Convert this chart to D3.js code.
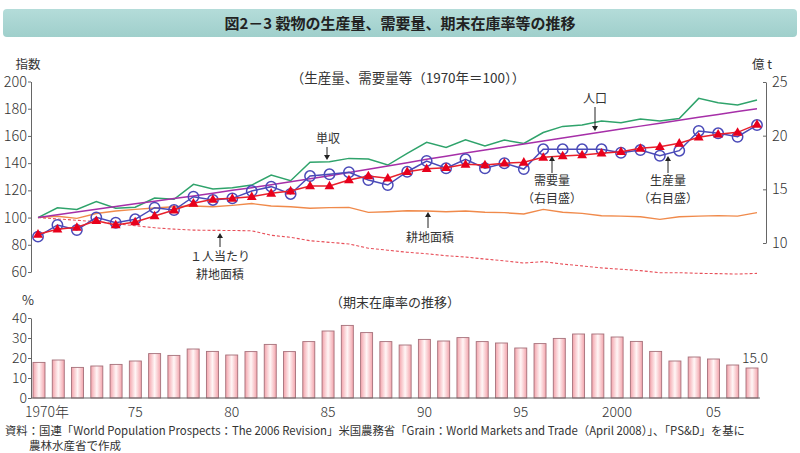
<!DOCTYPE html>
<html><head><meta charset="utf-8">
<script src="https://cdn.jsdelivr.net/npm/d3@7"></script>
<style>
body{margin:0;background:#fff;}
svg{display:block;font-family:"Noto Sans CJK JP","Noto Sans",sans-serif;}
</style></head><body>
<svg id="c" width="800" height="453"></svg>
<script>
const years = d3.range(1970, 2008);
// 単収 (index, 1970=100)
const yieldIdx = [100,107.2,106,111.7,106.8,107.6,114.3,113.4,124.4,121,122,123.9,131.3,127.1,140.6,141,143.5,143,138.6,147.2,155.3,151.5,157.2,152.7,157,154.5,162.5,167,168,171,169.7,172.4,171,172.8,187.6,184.4,182.7,186.4];
// 人口 (index)
const population = [100,102.1,104.1,106.1,108.1,110.1,112.0,114.0,115.9,117.9,120.0,122.0,124.2,126.3,128.5,130.8,133.1,135.5,137.9,140.3,142.8,145.1,147.4,149.7,151.9,154.1,156.3,158.5,160.7,162.9,165.1,167.2,169.4,171.5,173.7,175.8,177.9,180.0];
// 耕地面積 (index)
const arable = [100,101,99.4,103,104.8,106,107,108,108.5,108,109,110.3,108.5,108,106.8,107.3,107.5,103.8,104.3,105,104.8,104.3,104.8,103.9,103.6,102.6,106,103.9,103.1,101.3,101.1,100.6,98.7,100.6,101.1,101.4,101.1,103.6];
// 1人当たり耕地面積 (index)
const arablePerCap = [100,99,98,97,95.5,94,92.5,91.5,90.8,90.6,90.5,90.3,87,85.5,83,81.8,80.6,77.5,76,74.5,73.4,72,71,69.5,68.2,66.6,67.6,65.8,64.5,63,62,61,59.5,59.5,59,58.8,58.5,59];
// 生産量 (億t, right axis)
const production = [10.59,11.68,11.21,12.39,11.89,12.21,13.29,13.07,14.31,14.01,14.16,14.84,15.25,14.57,16.24,16.40,16.59,15.87,15.40,16.64,17.64,16.96,17.80,16.96,17.43,16.89,18.73,18.73,18.73,18.73,18.41,18.66,18.13,18.60,20.44,20.22,19.90,20.99];
// 需要量 (億t, right axis)
const demand = [10.81,11.28,11.46,12.08,11.68,11.96,12.52,13.07,13.70,14.07,14.16,14.31,14.63,14.84,15.31,15.31,15.87,16.24,16.03,16.64,16.92,17.02,17.33,17.27,17.43,17.52,17.98,18.11,18.20,18.36,18.51,18.82,18.97,19.29,19.85,20.13,20.31,21.05];
// 期末在庫率 (%)
const stockRatio = [17.8,19,15.3,16,16.8,18.5,22.2,21.3,24.5,23.3,21.5,23.2,26.8,23.2,28.2,33.5,36.3,32.7,28.2,26.5,29.3,28.5,30.2,28.2,27.5,25,27.2,29.8,32,32,30.5,28.3,23.3,18.5,20.5,19.5,16.5,15.0];
const leftTicks = [60,80,100,120,140,160,180,200];
const rightTicks = [10,15,20,25];
const pctTicks = [0,10,20,30,40];
const xLabels = [[1970,"1970年"],[1975,"75"],[1980,"80"],[1985,"85"],[1990,"90"],[1995,"95"],[2000,"2000"],[2005,"05"]];

const svg = d3.select("#c");
const txt = "#333";

// title
const defs = svg.append("defs");
const tg = defs.append("linearGradient").attr("id","tg").attr("x1",0).attr("y1",0).attr("x2",0).attr("y2",1);
tg.append("stop").attr("offset","0").attr("stop-color","#b4dcd9");
tg.append("stop").attr("offset","1").attr("stop-color","#9fcfcb");
svg.append("rect").attr("x",3).attr("y",9).attr("width",794).attr("height",28).attr("rx",4).attr("fill","url(#tg)");
svg.append("text").attr("x",400).attr("y",28.5).attr("text-anchor","middle").attr("font-size",15).attr("font-weight","bold").attr("fill","#222").text("図2－3 穀物の生産量、需要量、期末在庫率等の推移");

// scales
const x = d3.scaleLinear().domain([1970,2007]).range([38,757]);
const yL = d3.scaleLinear().domain([60,200]).range([272,81.5]);
const yR = d3.scaleLinear().domain([10,25]).range([243,82]);
const xb = d3.scaleLinear().domain([1970,2007]).range([39,752]);
const yb = d3.scaleLinear().domain([0,40]).range([398,318]);

function styleAxis(g){
  g.selectAll("path").attr("stroke","#666");
  g.selectAll("line").attr("stroke","#666");
  g.selectAll("text").attr("fill",txt).attr("font-size",14.5).attr("font-family","'Noto Sans CJK JP',sans-serif").attr("font-weight",300);
}
// left axis
const gl = svg.append("g").attr("transform","translate(31,0)").call(d3.axisLeft(yL).tickValues(leftTicks).tickSize(3).tickSizeOuter(0).tickPadding(1));
styleAxis(gl);
svg.append("text").attr("x",28).attr("y",69).attr("text-anchor","middle").attr("font-size",12.5).attr("fill",txt).text("指数");
// right axis
const gr = svg.append("g").attr("transform","translate(766,0)").call(d3.axisRight(yR).tickValues(rightTicks).tickSize(3).tickSizeOuter(0).tickPadding(3));
styleAxis(gr);
gr.selectAll(".tick line").attr("x2",-3);
svg.append("text").attr("x",762).attr("y",69).attr("text-anchor","middle").attr("font-size",12.5).attr("fill",txt).text("億 t");
svg.append("text").attr("x",408).attr("y",83).attr("text-anchor","middle").attr("font-size",13.5).attr("fill",txt).text("（生産量、需要量等（1970年＝100））");

// lines
const lineL = d3.line().x((d,i)=>x(years[i])).y(d=>yL(d));
const lineR = d3.line().x((d,i)=>x(years[i])).y(d=>yR(d));
svg.append("path").attr("d",lineL(arable)).attr("fill","none").attr("stroke","#f08a4b").attr("stroke-width",1.4);
svg.append("path").attr("d",lineL(arablePerCap)).attr("fill","none").attr("stroke","#e8505a").attr("stroke-width",1.1).attr("stroke-dasharray","3,2");
svg.append("path").attr("d",lineL(yieldIdx)).attr("fill","none").attr("stroke","#2fa36b").attr("stroke-width",1.5);
svg.append("path").attr("d",lineL(population)).attr("fill","none").attr("stroke","#a62fa8").attr("stroke-width",1.5);
svg.append("path").attr("d",lineR(production)).attr("fill","none").attr("stroke","#4a4ab8").attr("stroke-width",1.5);
svg.selectAll("circle.p").data(production).join("circle").attr("class","p")
  .attr("cx",(d,i)=>x(years[i])).attr("cy",d=>yR(d)).attr("r",5.2)
  .attr("fill","none").attr("stroke","#4a4ab8").attr("stroke-width",1.5);
svg.append("path").attr("d",lineR(demand)).attr("fill","none").attr("stroke","#e8202c").attr("stroke-width",1.5);
const tri = d3.symbol().type(d3.symbolTriangle).size(42);
svg.selectAll("path.t").data(demand).join("path").attr("class","t")
  .attr("d",tri).attr("transform",(d,i)=>`translate(${x(years[i])},${yR(d)+0.5})`)
  .attr("fill","#e8001c");

// annotations
function arrow(x0,y0,y1){
  svg.append("line").attr("x1",x0).attr("y1",y0).attr("x2",x0).attr("y2",y1+ (y1>y0?-4:4)).attr("stroke","#222").attr("stroke-width",1);
  const dir = y1>y0?1:-1;
  svg.append("path").attr("d",`M${x0-3},${y1-dir*5}L${x0+3},${y1-dir*5}L${x0},${y1}Z`).attr("fill","#222");
}
function label(xx,yy,lines){
  lines.forEach((t,i)=>svg.append("text").attr("x",xx).attr("y",yy+i*17.6).attr("text-anchor","middle").attr("font-size",12).attr("fill",txt).text(t));
}
label(328,143,["単収"]); arrow(327,147,160);
label(595,103,["人口"]); arrow(595,107,131);
label(552,185,["需要量","（右目盛）"]); arrow(552,173,156);
label(668,185,["生産量","（右目盛）"]); arrow(668,173,156);
label(430,242,["耕地面積"]); arrow(428,228,212);
label(220,261,["１人当たり","耕地面積"]); arrow(220,247,233);

// bottom chart
svg.append("text").attr("x",28).attr("y",305).attr("text-anchor","middle").attr("font-size",13).attr("fill",txt).text("%");
svg.append("text").attr("x",395).attr("y",307).attr("text-anchor","middle").attr("font-size",13).attr("fill",txt).text("（期末在庫率の推移）");
const bg = defs.append("linearGradient").attr("id","bg").attr("x1",0).attr("y1",0).attr("x2",1).attr("y2",0);
bg.append("stop").attr("offset","0").attr("stop-color","#f3a3ab");
bg.append("stop").attr("offset","0.5").attr("stop-color","#fff6f6");
bg.append("stop").attr("offset","1").attr("stop-color","#f3a3ab");
const bw = 12;
svg.selectAll("rect.b").data(stockRatio).join("rect").attr("class","b")
  .attr("x",(d,i)=>xb(years[i])-bw/2).attr("width",bw)
  .attr("y",d=>yb(d)).attr("height",d=>yb(0)-yb(d))
  .attr("fill","url(#bg)").attr("stroke","#a5707a").attr("stroke-width",0.9);
const gb = svg.append("g").attr("transform","translate(31,0)").call(d3.axisLeft(yb).tickValues(pctTicks).tickSize(3).tickSizeOuter(0).tickPadding(1));
styleAxis(gb);
gb.selectAll(".tick text").attr("font-size",14);
svg.append("line").attr("x1",31).attr("x2",760).attr("y1",yb(0)).attr("y2",yb(0)).attr("stroke","#666");
svg.append("text").attr("x",xb(2007)+3).attr("y",363).attr("text-anchor","middle").attr("font-size",14).attr("font-weight",300).attr("fill",txt).text(d3.format(".1f")(stockRatio[stockRatio.length-1]));
svg.selectAll("text.xl").data(xLabels).join("text").attr("class","xl")
  .attr("x",d=>d[0]===1970?xb(d[0])-14:xb(d[0])).attr("y",417)
  .attr("text-anchor",d=>d[0]===1970?"start":"middle")
  .attr("font-size",14).attr("font-weight",300).attr("fill",txt).text(d=>d[1]);

// footer
svg.append("text").attr("x",5).attr("y",434.5).attr("font-size",11.5).attr("fill",txt)
  .attr("textLength",740).attr("lengthAdjust","spacingAndGlyphs")
  .text("資料：国連「World Population Prospects：The 2006 Revision」米国農務省「Grain：World Markets and Trade（April 2008）」、「PS&D」を基に");
svg.append("text").attr("x",29).attr("y",450).attr("font-size",11.5).attr("fill",txt).text("農林水産省で作成");
</script></body></html>
